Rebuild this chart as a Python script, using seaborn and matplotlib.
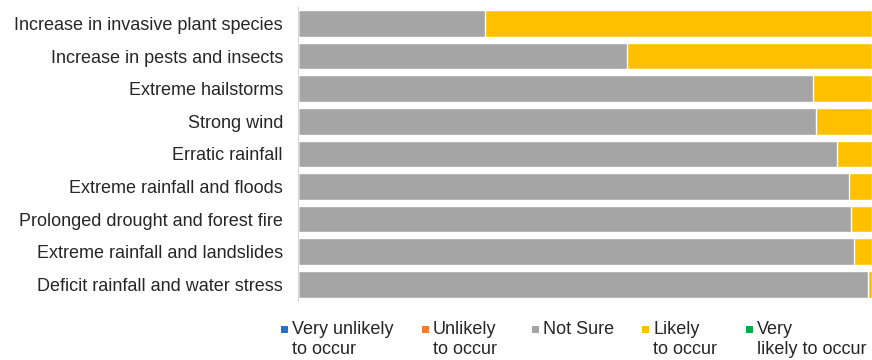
import pandas as pd
import numpy as np
import matplotlib
matplotlib.use('Agg')
import matplotlib.pyplot as plt
import seaborn as sns
from matplotlib.patches import Rectangle

# data (percent of respondents)
hazards = ['Increase in invasive plant species', 'Increase in pests and insects',
           'Extreme hailstorms', 'Strong wind', 'Erratic rainfall',
           'Extreme rainfall and floods', 'Prolonged drought and forest fire',
           'Extreme rainfall and landslides', 'Deficit rainfall and water stress']
very_unlikely = [0, 0, 0, 0, 0, 0, 0, 0, 0]
unlikely = [0, 0, 0, 0, 0, 0, 0, 0, 0]
not_sure = [32.6, 57.3, 89.8, 90.2, 93.9, 96.0, 96.3, 96.8, 99.3]
likely = [67.4, 42.7, 10.2, 9.8, 6.1, 4.0, 3.7, 3.2, 0.7]
very_likely = [0, 0, 0, 0, 0, 0, 0, 0, 0]

series_names = ['Very unlikely\nto occur', 'Unlikely\nto occur', 'Not Sure',
                'Likely\nto occur', 'Very\nlikely to occur']
colors = ['#2672C8', '#F47B2A', '#A5A5A5', '#FFC000', '#12A84A']

sns.set_style('white')
plt.rcParams['font.family'] = ['Liberation Sans', 'DejaVu Sans']

df = pd.DataFrame({'hazard': hazards, 'vu': very_unlikely, 'u': unlikely,
                   'ns': not_sure, 'l': likely, 'vl': very_likely})
cols = ['vu', 'u', 'ns', 'l', 'vl']
cum = df[cols].cumsum(axis=1)

W, H = 872, 360
fig, ax = plt.subplots(figsize=(W / 100, H / 100), dpi=100)
fig.subplots_adjust(left=0.342, right=1.0, top=0.98, bottom=0.165)

# draw cumulative bars from the outermost segment inwards
for col, color in reversed(list(zip(cols, colors))):
    sns.barplot(x=cum[col], y=df['hazard'], orient='h', color=color,
                width=0.82, saturation=1, ax=ax)

ax.set_xlim(0, 100)
ax.set_xlabel('')
ax.set_ylabel('')
ax.set_xticks([])
ax.tick_params(axis='y', length=0, labelsize=13, pad=11)
for s in ['top', 'right', 'bottom']:
    ax.spines[s].set_visible(False)
ax.spines['left'].set_color('#D9D9D9')

# legend drawn by hand so that one-line and two-line labels share a top line
marker_x = [281, 422, 532, 642, 746]   # pixels from left
text_gap = 11
marker_size = 7
marker_top = 326                      # pixels from top
text_top = 321
for mx, name, color in zip(marker_x, series_names, colors):
    fig.add_artist(Rectangle((mx / W, (H - marker_top - marker_size) / H),
                             marker_size / W, marker_size / H,
                             transform=fig.transFigure, facecolor=color,
                             edgecolor='none'))
    fig.text((mx + text_gap) / W, (H - text_top) / H, name, fontsize=13,
             va='top', ha='left', linespacing=1.2, color='#262626')

fig.savefig('out.png', dpi=100)
